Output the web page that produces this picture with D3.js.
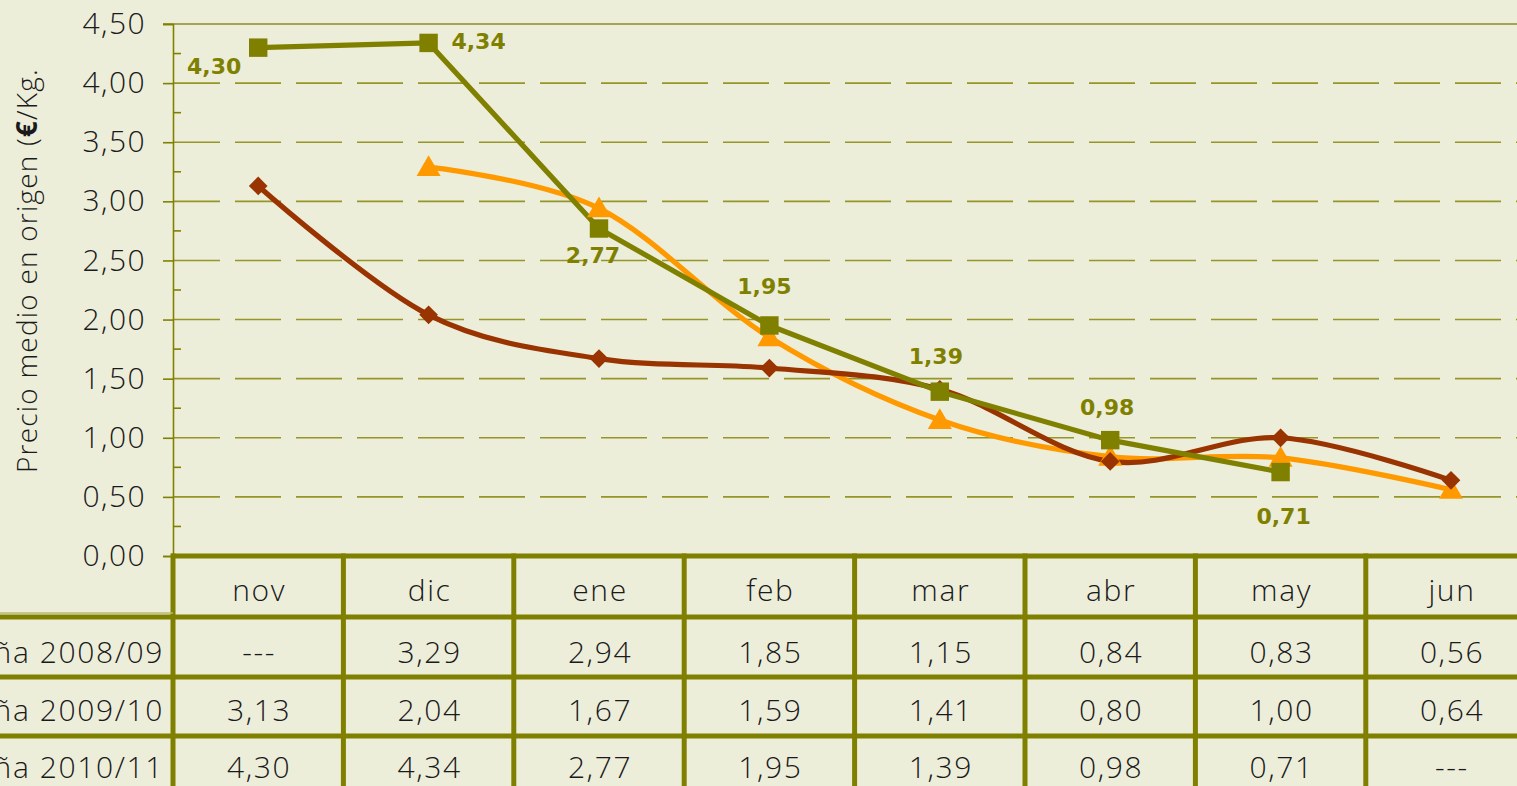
<!DOCTYPE html>
<html>
<head>
<meta charset="utf-8">
<script src="https://cdn.jsdelivr.net/npm/d3@7"></script>
<style>
  html, body { margin: 0; padding: 0; background: #EDEEDA; overflow: hidden; }
  svg { display: block; }
</style>
</head>
<body>
<svg id="chart" width="1517" height="786"></svg>
<script>
// ---- data ----
const months = ["nov", "dic", "ene", "feb", "mar", "abr", "may", "jun"];
const seriesNames = ["Campaña 2008/09", "Campaña 2009/10", "Campaña 2010/11"];
const values0809 = [null, 3.29, 2.94, 1.85, 1.15, 0.84, 0.83, 0.56];
const values0910 = [3.13, 2.04, 1.67, 1.59, 1.41, 0.80, 1.00, 0.64];
const values1011 = [4.30, 4.34, 2.77, 1.95, 1.39, 0.98, 0.71, null];
const yTicks = [0, 0.5, 1, 1.5, 2, 2.5, 3, 3.5, 4, 4.5];
const yTitle = "Precio medio en origen  (";
const yTitleBold = "€";
const yTitleEnd = "/Kg.";

// ---- layout / style ----
const svg = d3.select("#chart");
const W = 1517, H = 786;
const olive = "#808000";
const colors = ["#FF9900", "#993300", "#808000"];
const fmt = v => d3.format(".2f")(v).replace(".", ",");
// label offsets (dx, dy from the marker centre) for the 2010/11 data labels
const labelOffsets = [[-44, 19], [50, -1], [-6, 27], [-5, -39], [-4, -35], [-3, -33], [3, 44]];

const x = d3.scaleBand().domain(months).range([173, 173 + 8 * 170.4]).padding(0);
const y = d3.scaleLinear().domain([0, 4.5]).range([556, 24]);
const cx = m => x(m) + x.bandwidth() / 2;

svg.append("rect").attr("width", W).attr("height", H).attr("fill", "#EDEEDA");

// gridlines
const grid = svg.append("g");
grid.selectAll("line.grid").data(yTicks.filter(t => t > 0 && t < 4.5)).join("line")
  .attr("x1", 174).attr("x2", W)
  .attr("y1", d => y(d)).attr("y2", d => y(d))
  .attr("stroke", "#959528").attr("stroke-width", 1.6)
  .attr("stroke-dasharray", "46,15");
grid.append("line").attr("x1", 163).attr("x2", W).attr("y1", y(4.5)).attr("y2", y(4.5))
  .attr("stroke", "#8C8C20").attr("stroke-width", 1.6);

// y axis
const yAxis = d3.axisLeft(y).tickValues(yTicks).tickSize(10).tickFormat(fmt);
const ya = svg.append("g").attr("transform", "translate(173,0)").call(yAxis);
ya.select(".domain").attr("stroke", olive).attr("stroke-width", 1.6);
ya.selectAll(".tick line").attr("stroke", olive).attr("stroke-width", 1.6);
ya.selectAll(".tick text")
  .attr("x", -27)
  .attr("font-family", "'Open Sans', sans-serif").attr("font-weight", 300)
  .attr("font-size", 30).attr("letter-spacing", 1.4).attr("fill", "#1a1a1a");
const minor = d3.range(0.25, 4.5, 0.5);
svg.append("g").selectAll("line").data(minor).join("line")
  .attr("x1", 173).attr("x2", 181)
  .attr("y1", d => y(d)).attr("y2", d => y(d))
  .attr("stroke", olive).attr("stroke-width", 1.6);

// y title
const yt = svg.append("text")
  .attr("transform", "translate(37,473) rotate(-90)")
  .attr("font-family", "'Open Sans', sans-serif").attr("font-weight", 300)
  .attr("font-size", 28).attr("letter-spacing", 1.2).attr("fill", "#1a1a1a");
yt.append("tspan").text(yTitle);
yt.append("tspan").attr("font-weight", 700).text(yTitleBold);
yt.append("tspan").text(yTitleEnd);

// lines
const seriesData = [values0809, values0910, values1011].map((vals, i) => ({
  name: seriesNames[i],
  color: colors[i],
  pts: months.map((m, j) => ({ m, v: vals[j] })).filter(d => d.v !== null)
}));

const smoothLine = d3.line().x(d => cx(d.m)).y(d => y(d.v)).curve(d3.curveCardinal.tension(0));
const straightLine = d3.line().x(d => cx(d.m)).y(d => y(d.v));

const linesG = svg.append("g");
seriesData.forEach((s, i) => {
  linesG.append("path").datum(s.pts)
    .attr("d", i === 2 ? straightLine : smoothLine)
    .attr("fill", "none").attr("stroke", s.color).attr("stroke-width", 5.2)
    .attr("stroke-linejoin", "round");
});

// markers
const sym = [d3.symbolTriangle, d3.symbolSquare, d3.symbolSquare];
const symSize = [250, 175, 340];
const symRot = [0, 45, 0];
seriesData.forEach((s, i) => {
  svg.append("g").selectAll("path").data(s.pts).join("path")
    .attr("transform", d => `translate(${cx(d.m)},${y(d.v) + (i === 0 ? 2 : 0)}) rotate(${symRot[i]})`)
    .attr("d", d3.symbol().type(sym[i]).size(symSize[i]))
    .attr("fill", s.color);
});

// data labels for 2010/11
const lblG = svg.append("g");
seriesData[2].pts.forEach(d => {
  const o = labelOffsets[months.indexOf(d.m)];
  lblG.append("text").attr("x", cx(d.m) + o[0]).attr("y", y(d.v) + o[1])
    .attr("text-anchor", "middle").attr("dominant-baseline", "central")
    .attr("font-family", "'DejaVu Sans', sans-serif").attr("font-weight", 700)
    .attr("font-size", 22).attr("fill", olive).text(fmt(d.v));
});

// data table
const tbl = svg.append("g");
const rowY = [556, 617, 677, 736, 796];
const tableVals = [values0809, values0910, values1011];
const txtStyle = sel => sel.attr("font-family", "'Open Sans', sans-serif").attr("font-weight", 300)
  .attr("font-size", 30).attr("letter-spacing", 1.6).attr("fill", "#1a1a1a")
  .attr("dominant-baseline", "central");

months.forEach(m => {
  tbl.append("text").attr("x", cx(m) + 1).attr("y", 589)
    .attr("text-anchor", "middle").call(txtStyle).text(m);
});
tableVals.forEach((vals, r) => {
  const ym = rowY[r + 1] + 34 - 2 * r;
  tbl.append("text").attr("x", 164).attr("y", ym).attr("text-anchor", "end").call(txtStyle).text(seriesNames[r]);
  months.forEach((m, j) => {
    tbl.append("text").attr("x", cx(m) + 1).attr("y", ym).attr("text-anchor", "middle")
      .call(txtStyle).text(vals[j] === null ? "---" : fmt(vals[j]));
  });
});
const boundaries = months.map(m => x(m));
tbl.selectAll("line.v").data(boundaries).join("line")
  .attr("x1", d => d).attr("x2", d => d).attr("y1", rowY[0] - 2.5).attr("y2", H)
  .attr("stroke", olive).attr("stroke-width", 5);
tbl.append("line").attr("x1", 171).attr("x2", W).attr("y1", rowY[0]).attr("y2", rowY[0])
  .attr("stroke", olive).attr("stroke-width", 5);
[rowY[1], rowY[2], rowY[3]].forEach(yy => {
  tbl.append("line").attr("x1", 0).attr("x2", W).attr("y1", yy).attr("y2", yy)
    .attr("stroke", olive).attr("stroke-width", 5);
});
tbl.append("line").attr("x1", 0).attr("x2", 173).attr("y1", 613).attr("y2", 613)
  .attr("stroke", "#B8B870").attr("stroke-width", 1.5);
</script>
</body>
</html>
